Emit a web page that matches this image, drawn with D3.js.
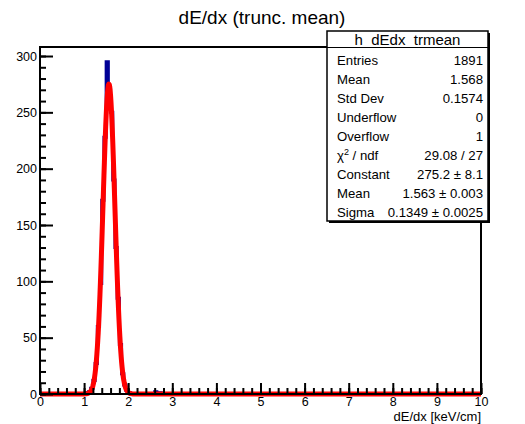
<!DOCTYPE html>
<html>
<head>
<meta charset="utf-8">
<script src="https://cdn.jsdelivr.net/npm/d3@7"></script>
<style>
  body { margin: 0; background: #fff; }
  text { font-family: "Liberation Sans", Arial, Helvetica, sans-serif; }
</style>
</head>
<body>
<script>
// histogram h_dEdx_trmean: 200 bins of 0.05 from 0 to 10, only the filled ones listed
var binLow   = [1.05, 1.10, 1.15, 1.20, 1.25, 1.30, 1.35, 1.40, 1.45, 1.50, 1.55, 1.60,
                1.65, 1.70, 1.75, 1.80, 1.85, 1.90, 1.95, 2.00, 2.60, 2.70];
var binCount = [1, 2, 5, 12, 27, 60, 98, 172, 228, 295, 270, 250,
                190, 130, 85, 44, 18, 8, 3, 1, 2, 1];

// gaus fit result
var fitConstant = 275.2;
var fitMean     = 1.563;
var fitSigma    = 0.1349;

// stats box
var statNames  = ["Entries", "Mean", "Std Dev", "Underflow", "Overflow", "chi2", "Constant", "Mean", "Sigma"];
var statValues = ["1891", "1.568", "0.1574", "0", "1", "29.08 / 27", "275.2 \u00b1 8.1", "1.563 \u00b1 0.003", "0.1349 \u00b1 0.0025"];

var xTicks = [0, 1, 2, 3, 4, 5, 6, 7, 8, 9, 10];
var yTicks = [0, 50, 100, 150, 200, 250, 300];

var W = 525, H = 424;
var frame = {left: 40, right: 481, top: 47, bottom: 394};

var svg = d3.select("body").append("svg")
    .attr("width", W).attr("height", H);

var x = d3.scaleLinear().domain([0, 10]).range([frame.left, frame.right]);
var y = d3.scaleLinear().domain([0, 308]).range([frame.bottom, frame.top]);

// fill the full bin array
var nBins = 200, bw = 0.05;
var counts = d3.range(nBins).map(function() { return 0; });
binLow.forEach(function(lo, i) { counts[Math.round(lo / bw)] = binCount[i]; });

// histogram outline as steps
var pts = [[0, 0]];
counts.forEach(function(c, i) {
  pts.push([i * bw, c]);
  pts.push([(i + 1) * bw, c]);
});
pts.push([10, 0]);

var line = d3.line().x(function(d) { return x(d[0]); }).y(function(d) { return y(d[1]); });

svg.append("path")
    .attr("d", line(pts))
    .attr("fill", "none")
    .attr("stroke", "#000096")
    .attr("stroke-width", 3);

// fitted gaussian
var fitPts = d3.range(0, 10.0001, 0.01).map(function(v) {
  var z = (v - fitMean) / fitSigma;
  return [v, fitConstant * Math.exp(-0.5 * z * z)];
});
svg.append("path")
    .attr("d", line(fitPts))
    .attr("fill", "none")
    .attr("stroke", "#ff0000")
    .attr("stroke-width", 5)
    .attr("stroke-linejoin", "round");

// frame
svg.append("rect")
    .attr("x", frame.left).attr("y", frame.top)
    .attr("width", frame.right - frame.left)
    .attr("height", frame.bottom - frame.top)
    .attr("fill", "none")
    .attr("stroke", "#000")
    .attr("stroke-width", 2);

// x axis, ticks pointing into the frame
var xMinor = d3.range(0, 10.001, 0.2);
svg.append("g")
    .attr("transform", "translate(0," + frame.bottom + ")")
    .call(d3.axisBottom(x).tickValues(xMinor).tickSize(-6).tickFormat(""))
    .call(function(g) { g.select(".domain").remove(); g.selectAll("line").attr("stroke-width", 2); });
var xa = svg.append("g")
    .attr("transform", "translate(0," + frame.bottom + ")")
    .call(d3.axisBottom(x).tickValues(xTicks).tickSize(-11).tickFormat(d3.format("d")));
xa.select(".domain").remove();
xa.selectAll("line").attr("stroke-width", 2);
xa.selectAll("text").attr("font-size", 12.5).attr("fill", "#000").attr("dy", "0.71em").attr("y", 3);

// y axis
var yMinor = d3.range(0, 308, 10);
svg.append("g")
    .attr("transform", "translate(" + frame.left + ",0)")
    .call(d3.axisLeft(y).tickValues(yMinor).tickSize(-6).tickFormat(""))
    .call(function(g) { g.select(".domain").remove(); g.selectAll("line").attr("stroke-width", 2); });
var ya = svg.append("g")
    .attr("transform", "translate(" + frame.left + ",0)")
    .call(d3.axisLeft(y).tickValues(yTicks).tickSize(-13).tickFormat(d3.format("d")));
ya.select(".domain").remove();
ya.selectAll("line").attr("stroke-width", 2);
ya.selectAll("text").attr("font-size", 12.5).attr("fill", "#000").attr("x", -3);

// axis title
svg.append("text")
    .attr("x", frame.right).attr("y", 421)
    .attr("text-anchor", "end")
    .attr("font-size", 13)
    .text("dE/dx [keV/cm]");

// title
svg.append("text")
    .attr("x", 262).attr("y", 24)
    .attr("text-anchor", "middle")
    .attr("font-size", 19)
    .text("dE/dx (trunc. mean)");

// stats box
var box = {x: 327, y: 31, w: 161, h: 190, head: 16.5, row: 19.1};
var sb = svg.append("g");
sb.append("rect")
    .attr("x", box.x + 2).attr("y", box.y + 2)
    .attr("width", box.w).attr("height", box.h)
    .attr("fill", "#000");
sb.append("rect")
    .attr("x", box.x).attr("y", box.y)
    .attr("width", box.w).attr("height", box.h)
    .attr("fill", "#fff").attr("stroke", "#000").attr("stroke-width", 1.5);
sb.append("line")
    .attr("x1", box.x).attr("x2", box.x + box.w)
    .attr("y1", box.y + box.head).attr("y2", box.y + box.head)
    .attr("stroke", "#000").attr("stroke-width", 1.2);
sb.append("text")
    .attr("x", box.x + box.w / 2).attr("y", box.y + 13.5)
    .attr("text-anchor", "middle")
    .attr("font-size", 15)
    .text("h_dEdx_trmean");

statNames.forEach(function(name, i) {
  var ty = box.y + box.head + 17 + i * box.row;
  var t = sb.append("text")
      .attr("x", box.x + 10).attr("y", ty)
      .attr("font-size", 13.2);
  if (name === "chi2") {
    t.append("tspan").text("\u03c7");
    t.append("tspan").attr("font-size", 9).attr("dy", -5).text("2");
    t.append("tspan").attr("dy", 5).text(" / ndf");
  } else {
    t.text(name);
  }
  sb.append("text")
      .attr("x", box.x + box.w - 5).attr("y", ty)
      .attr("text-anchor", "end")
      .attr("font-size", 13.2)
      .text(statValues[i]);
});
</script>
</body>
</html>
